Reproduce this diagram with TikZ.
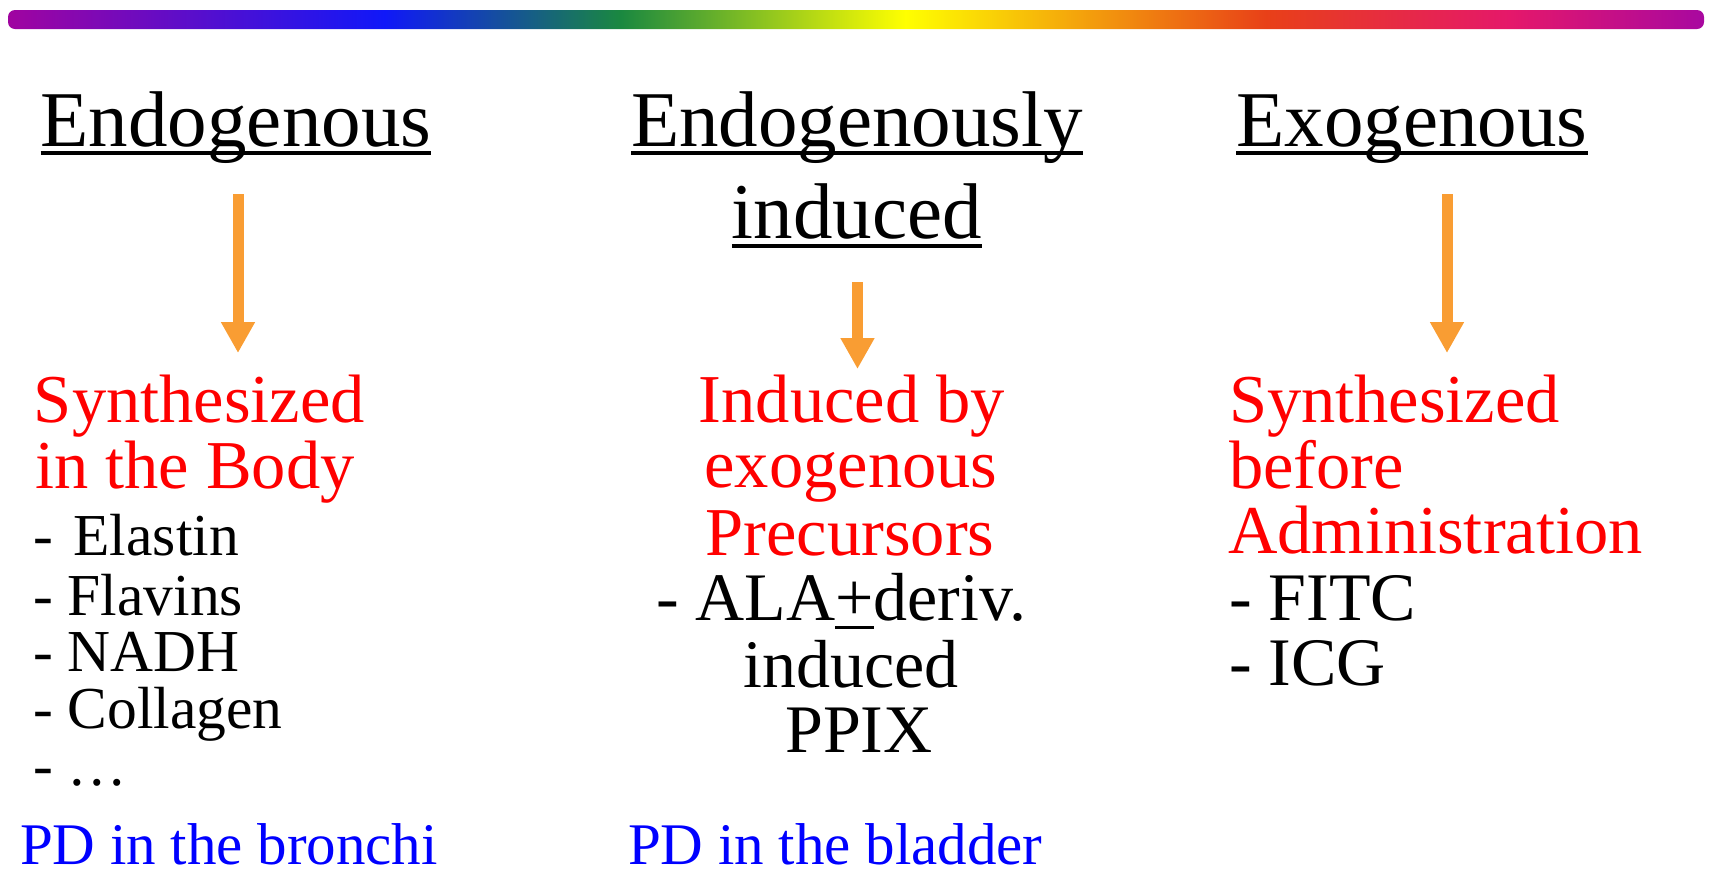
\documentclass[tikz,border=0pt]{standalone}
\usepackage{fontspec}
\setmainfont{Liberation Serif}
\usetikzlibrary{arrows.meta}

% colours of the title bar
\definecolor{rbA}{HTML}{A004A0}
\definecolor{rbB}{HTML}{1018F8}
\definecolor{rbC}{HTML}{1A8840}
\definecolor{rbD}{HTML}{FFFF00}
\definecolor{rbE}{HTML}{E84018}
\definecolor{rbF}{HTML}{E5186A}
\definecolor{rbG}{HTML}{A808A0}
\definecolor{flowc}{HTML}{F99D33}
\definecolor{hired}{HTML}{FF0000}
\definecolor{hiblue}{HTML}{0000FF}

% the middle 50bp of the shading spans the bar
\pgfdeclarehorizontalshading{rainbowbar}{100bp}{%
  color(0bp)=(rbA); color(25bp)=(rbA); color(36.1bp)=(rbB);
  color(43.05bp)=(rbC); color(51.45bp)=(rbD); color(62.1bp)=(rbE);
  color(69.25bp)=(rbF); color(75bp)=(rbG); color(100bp)=(rbG)}

\tikzset{
  txt/.style={inner sep=0pt, outer sep=0pt, font=\fontsize{68}{80}\selectfont},
  head/.style={txt, anchor=base, font=\fontsize{79}{94}\selectfont},
  redtxt/.style={txt, text=hired, font=\fontsize{68.5}{80}\selectfont},
  bluetxt/.style={txt, text=hiblue, font=\fontsize{59}{70}\selectfont,
    anchor=base west, text depth=0pt},
  smalltxt/.style={txt, font=\fontsize{59.5}{70}\selectfont, anchor=base west},
  uline/.style={line width=4pt},
  flow/.style={draw=flowc, line width=11pt,
    -{Triangle[length=31pt, width=32pt, color=flowc]}}
}

\begin{document}
\begin{tikzpicture}[x=1pt, y=-1pt]
\useasboundingbox (0,0) rectangle (1711,871);

% rainbow title bar
\shade[shading=rainbowbar, rounded corners=7pt] (8,10) rectangle (1704,29);

% headings
\node[head] (h1) at (236,146) {Endogenous};
\node[head] (h2a) at (857,146) {Endogenously};
\node[head] (h2b) at (857,238) {induced};
\node[head] (h3) at (1412,146) {Exogenous};

\draw[uline] ([yshift=-7pt]h1.base west) -- ([yshift=-7pt]h1.base east);
\draw[uline] ([yshift=-7pt]h2a.base west) -- ([yshift=-7pt]h2a.base east);
\draw[uline] ([yshift=-8pt]h2b.base west) -- ([yshift=-8pt]h2b.base east);
\draw[uline] ([yshift=-7pt]h3.base west) -- ([yshift=-7pt]h3.base east);

% arrows
\coordinate (a1s) at (238,194);   \coordinate (a1e) at (238,353);
\coordinate (a2s) at (857.5,282); \coordinate (a2e) at (857.5,369);
\coordinate (a3s) at (1447,194);  \coordinate (a3e) at (1447,353);
\draw[flow] (a1s) -- (a1e);
\draw[flow] (a2s) -- (a2e);
\draw[flow] (a3s) -- (a3e);

% left column
\node[redtxt, anchor=base west] (l1) at (34,422) {Synthesized};
\node[redtxt, anchor=base west] (l2) at (35,488) {in the Body};
\node[smalltxt] (l3) at (33,555) {-\hspace{6pt} Elastin};
\node[smalltxt] (l4) at (33,615) {- Flavins};
\node[smalltxt] (l5) at (33,671) {- NADH};
\node[smalltxt] (l6) at (33,728) {- Collagen};
\node[smalltxt] (l7) at (33,785) {- …};
\node[bluetxt] (l8) at (20,864) {PD in the bronchi};

% middle column
\node[redtxt, anchor=base] (m1) at (852,422) {Induced by};
\node[redtxt, anchor=base] (m2) at (851,487) {exogenous};
\node[redtxt, anchor=base] (m3) at (850,555) {Precursors};
\node[txt, anchor=base west] (m4) at (656,620)
  {- ALA\makebox[0pt][l]{\rule[-9pt]{0.564em}{3pt}}+deriv.};
\node[txt, anchor=base] (m5) at (851,687) {induced};
\node[txt, anchor=base] (m6) at (859,752) {PPIX};
\node[bluetxt] (m7) at (628,864) {PD in the bladder};

% right column
\node[redtxt, anchor=base west] (r1) at (1229,422) {Synthesized};
\node[redtxt, anchor=base west] (r2) at (1229,488) {before};
\node[redtxt, anchor=base west] (r3) at (1228,553) {Administration};
\node[txt, anchor=base west] (r4) at (1229,620) {- FITC};
\node[txt, anchor=base west] (r5) at (1229,685) {- ICG};
\end{tikzpicture}
\end{document}
